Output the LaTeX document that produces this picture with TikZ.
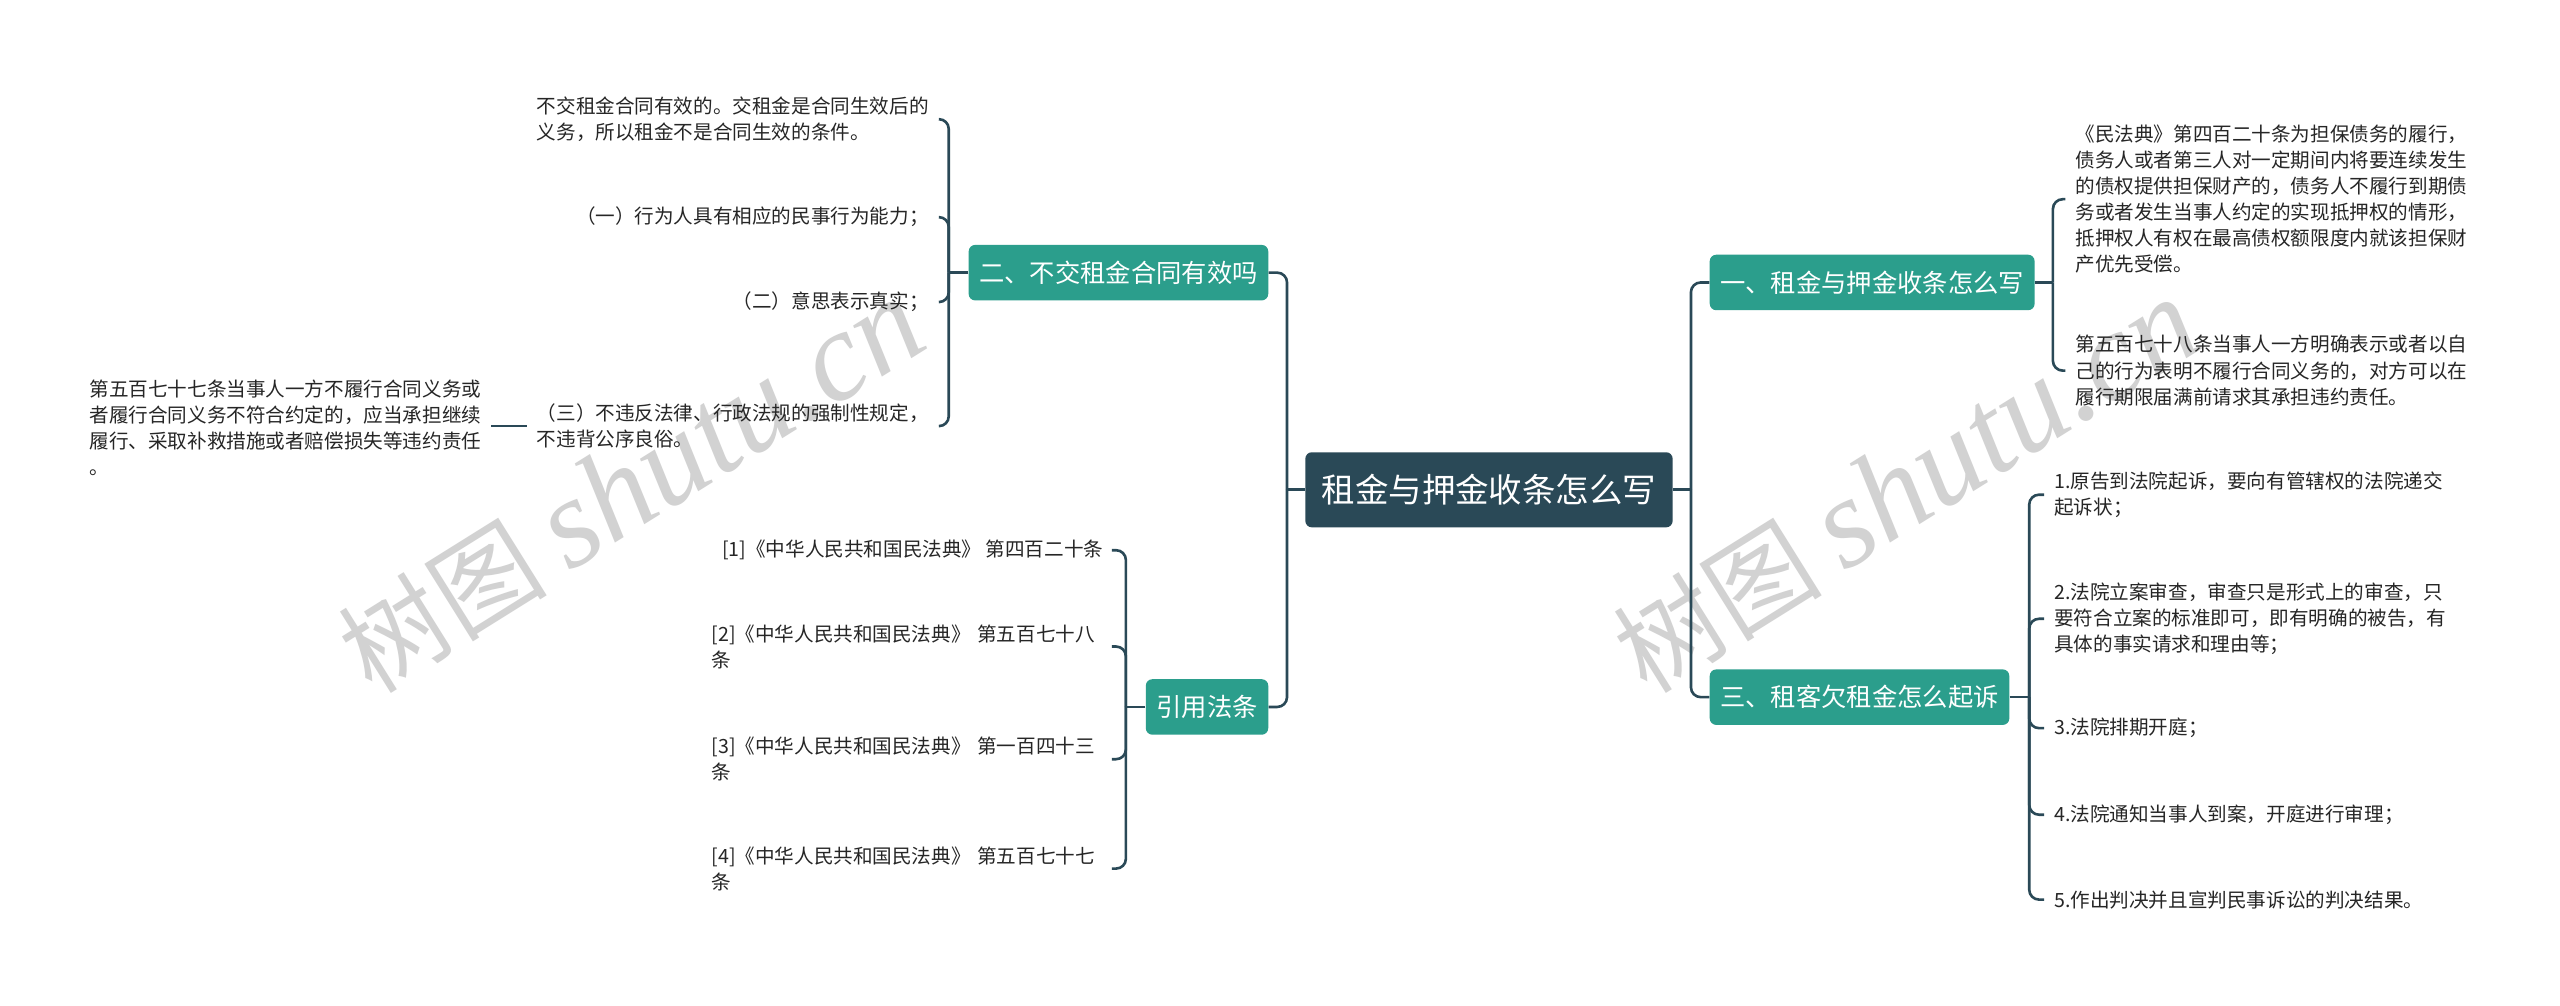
\documentclass[tikz,border=0pt]{standalone}
\usepackage{fontspec}
\setmainfont{Noto Sans CJK SC}
\newfontfamily\wmserif{Liberation Serif}
\definecolor{rootc}{HTML}{2A4957}
\definecolor{tealc}{HTML}{2B9E8C}
\definecolor{linec}{HTML}{2A4957}
\definecolor{wmc}{HTML}{D2D2D2}
\begin{document}
\begin{tikzpicture}[x=1pt,y=-1pt,
  rootbox/.style={fill=rootc,text=white,rounded corners=4pt,minimum height=46pt,minimum width=225pt,inner xsep=0pt,inner ysep=0pt,font=\fontsize{20.5}{24}\selectfont},
  branch/.style={fill=tealc,text=white,rounded corners=4pt,minimum height=34pt,inner xsep=6.5pt,inner ysep=0pt,font=\fontsize{15.5}{19}\selectfont},
  leaf/.style={align=left,inner xsep=6pt,inner ysep=2pt,text=black!85,font=\fontsize{12}{16}\selectfont},
  wrapleaf/.style={leaf,text width=240pt},
  conn/.style={draw=linec,line width=1.6pt},
  elbow/.style={conn,rounded corners=6pt}]
\useasboundingbox (0,0) rectangle (1568,616);
\fill[white] (0,0) rectangle (1568,616);
% watermark
\begin{scope}
\clip (0,0) rectangle (1568,616);
\node[text=wmc,anchor=base west,rotate=32,inner sep=0pt] (wm1) at (228,426)
  {\fontsize{64}{64}\selectfont 树图 {\wmserif\itshape\fontsize{78}{78}\selectfont shutu.cn}};
\node[text=wmc,anchor=base west,rotate=32,inner sep=0pt] (wm2) at (1009,426)
  {\fontsize{64}{64}\selectfont 树图 {\wmserif\itshape\fontsize{78}{78}\selectfont shutu.cn}};
\end{scope}
% root and branches
\node[rootbox] (root) at (912,300) {租金与押金收条怎么写};
\node[branch,anchor=east] (B2) at (777,167) {二、不交租金合同有效吗};
\node[branch,anchor=east] (B4) at (777,433) {引用法条};
\node[branch,anchor=west] (B1) at (1047,173) {一、租金与押金收条怎么写};
\node[branch,anchor=west] (B3) at (1047,427) {三、租客欠租金怎么起诉};
% left leaves of B2
\node[leaf,anchor=east] (L1) at (575,73) {不交租金合同有效的。交租金是合同生效后的\\义务，所以租金不是合同生效的条件。};
\node[leaf,anchor=east] (L2) at (575,133) {（一）行为人具有相应的民事行为能力；};
\node[leaf,anchor=east] (L3) at (575,185) {（二）意思表示真实；};
\node[leaf,anchor=east] (L4) at (575,261) {（三）不违反法律、行政法规的强制性规定，\\不违背公序良俗。};
\node[leaf,anchor=east] (G) at (301,262) {第五百七十七条当事人一方不履行合同义务或\\者履行合同义务不符合约定的，应当承担继续\\履行、采取补救措施或者赔偿损失等违约责任\\。};
% leaves of B4
\node[leaf,anchor=east,inner xsep=5pt] (K1) at (681,337) {[1]《中华人民共和国民法典》 第四百二十条};
\node[wrapleaf,anchor=east,inner xsep=5pt] (K2) at (681,396) {[2]《中华人民共和国民法典》 第五百七十八\\条};
\node[wrapleaf,anchor=east,inner xsep=5pt] (K3) at (681,465) {[3]《中华人民共和国民法典》 第一百四十三\\条};
\node[wrapleaf,anchor=east,inner xsep=5pt] (K4) at (681,532) {[4]《中华人民共和国民法典》 第五百七十七\\条};
% leaves of B1
\node[leaf,anchor=west] (R1) at (1265,122) {《民法典》第四百二十条为担保债务的履行，\\债务人或者第三人对一定期间内将要连续发生\\的债权提供担保财产的，债务人不履行到期债\\务或者发生当事人约定的实现抵押权的情形，\\抵押权人有权在最高债权额限度内就该担保财\\产优先受偿。};
\node[leaf,anchor=west] (R2) at (1265,227) {第五百七十八条当事人一方明确表示或者以自\\己的行为表明不履行合同义务的，对方可以在\\履行期限届满前请求其承担违约责任。};
% leaves of B3
\node[leaf,anchor=west] (S1) at (1252,303) {1.原告到法院起诉，要向有管辖权的法院递交\\起诉状；};
\node[leaf,anchor=west] (S2) at (1252,379) {2.法院立案审查，审查只是形式上的审查，只\\要符合立案的标准即可，即有明确的被告，有\\具体的事实请求和理由等；};
\node[leaf,anchor=west] (S3) at (1252,446) {3.法院排期开庭；};
\node[leaf,anchor=west] (S4) at (1252,499) {4.法院通知当事人到案，开庭进行审理；};
\node[leaf,anchor=west] (S5) at (1252,551) {5.作出判决并且宣判民事诉讼的判决结果。};
% connectors
\draw[conn] (root.west) -- ++(-11,0) coordinate (jL);
\draw[conn] (root.east) -- ++(11,0) coordinate (jR);
\draw[elbow] (jL) |- (B2.east);
\draw[elbow] (jL) |- (B4.east);
\draw[elbow] (jR) |- (B1.west);
\draw[elbow] (jR) |- (B3.west);
\draw[conn] (B2.west) -- ++(-12,0) coordinate (j2);
\foreach \n in {L1,L2,L3,L4} \draw[elbow] (j2) |- (\n.east);
\draw[conn] (L4.west) -- (L4.west -| G.east);
\draw[conn] (B4.west) -- ++(-12,0) coordinate (j4);
\foreach \n in {K1,K2,K3,K4} \draw[elbow] (j4) |- (\n.east);
\draw[conn] (B1.east) -- ++(11,0) coordinate (j1);
\foreach \n in {R1,R2} \draw[elbow] (j1) |- (\n.west);
\draw[conn] (B3.east) -- ++(12,0) coordinate (j3);
\foreach \n in {S1,S2,S3,S4,S5} \draw[elbow] (j3) |- (\n.west);
\end{tikzpicture}
\end{document}
